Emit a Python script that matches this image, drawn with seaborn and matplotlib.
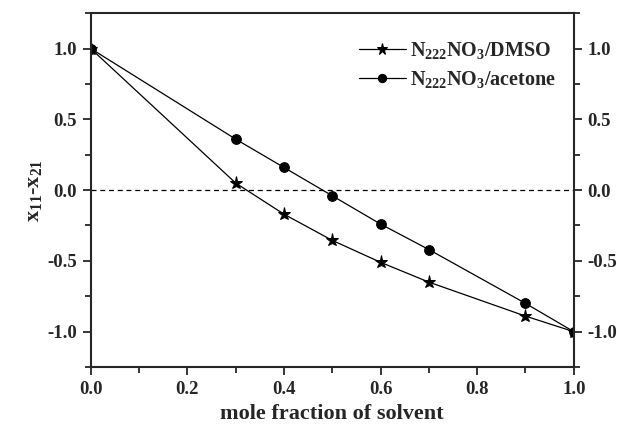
import pandas as pd
import matplotlib
matplotlib.use("Agg")
import matplotlib.pyplot as plt
import seaborn as sns
from matplotlib.ticker import MultipleLocator, FormatStrFormatter

# data
solvent_x = [0.0, 0.3, 0.4, 0.5, 0.6, 0.7, 0.9, 1.0]
dmso_y = [1.0, 0.05, -0.17, -0.355, -0.51, -0.65, -0.89, -1.0]
acetone_y = [1.0, 0.36, 0.16, -0.04, -0.24, -0.42, -0.80, -1.0]
series_names = ["N$_{222}$NO$_3$/DMSO", "N$_{222}$NO$_3$/acetone"]

df = pd.concat([
    pd.DataFrame({"x": solvent_x, "y": dmso_y, "system": series_names[0]}),
    pd.DataFrame({"x": solvent_x, "y": acetone_y, "system": series_names[1]}),
])

sns.set_style("ticks")
plt.rcParams["font.family"] = ["Liberation Serif", "DejaVu Serif"]
plt.rcParams["font.weight"] = "bold"
plt.rcParams["mathtext.fontset"] = "custom"
plt.rcParams["mathtext.rm"] = "Liberation Serif:bold"
plt.rcParams["mathtext.it"] = "Liberation Serif:bold"
plt.rcParams["mathtext.bf"] = "Liberation Serif:bold"
plt.rcParams["mathtext.default"] = "rm"

fig = plt.figure(figsize=(6.17, 4.37), dpi=100)
ax = fig.add_axes([0.147, 0.16, 0.783, 0.81])

ax.axhline(0, color="black", lw=0.9, ls=(0, (4, 3)), zorder=1)

sns.lineplot(data=df, x="x", y="y", hue="system", style="system",
             palette=["black", "black"], markers={series_names[0]: "*", series_names[1]: "o"},
             dashes=False, lw=0.9, markeredgecolor="black",
             sort=False, ax=ax, legend=False)

lines = ax.get_lines()[1:]
lines[0].set_markersize(9.5)
lines[1].set_markersize(7)

ax.set_xlim(0, 1.0)
ax.set_ylim(-1.25, 1.25)
ax.xaxis.set_major_locator(MultipleLocator(0.2))
ax.xaxis.set_minor_locator(MultipleLocator(0.1))
ax.yaxis.set_major_locator(MultipleLocator(0.5))
ax.yaxis.set_minor_locator(MultipleLocator(0.25))
ax.tick_params(which="both", direction="out", top=False, right=True,
               labelright=True, width=1.3, labelsize=13.5, pad=4)
ax.tick_params(which="major", length=6)
ax.tick_params(which="minor", length=4)
ax.xaxis.set_major_formatter(FormatStrFormatter("%.1f"))
ax.yaxis.set_major_formatter(FormatStrFormatter("%.1f"))
for lab in ax.get_xticklabels() + ax.get_yticklabels():
    lab.set_fontweight("bold")
for spine in ax.spines.values():
    spine.set_linewidth(1.5)

ax.set_xlabel("mole fraction of solvent", fontsize=16, fontweight="bold", labelpad=4)
ax.set_ylabel("x$_{11}$-x$_{21}$", fontsize=16, fontweight="bold", labelpad=2)

ax.legend(lines, series_names, loc="upper right", frameon=False, fontsize=14.5,
          handlelength=2.3, handletextpad=0.2, bbox_to_anchor=(1.0, 0.975),
          labelspacing=0.4, markerscale=0.85)

fig.savefig("out.png", dpi=100)
